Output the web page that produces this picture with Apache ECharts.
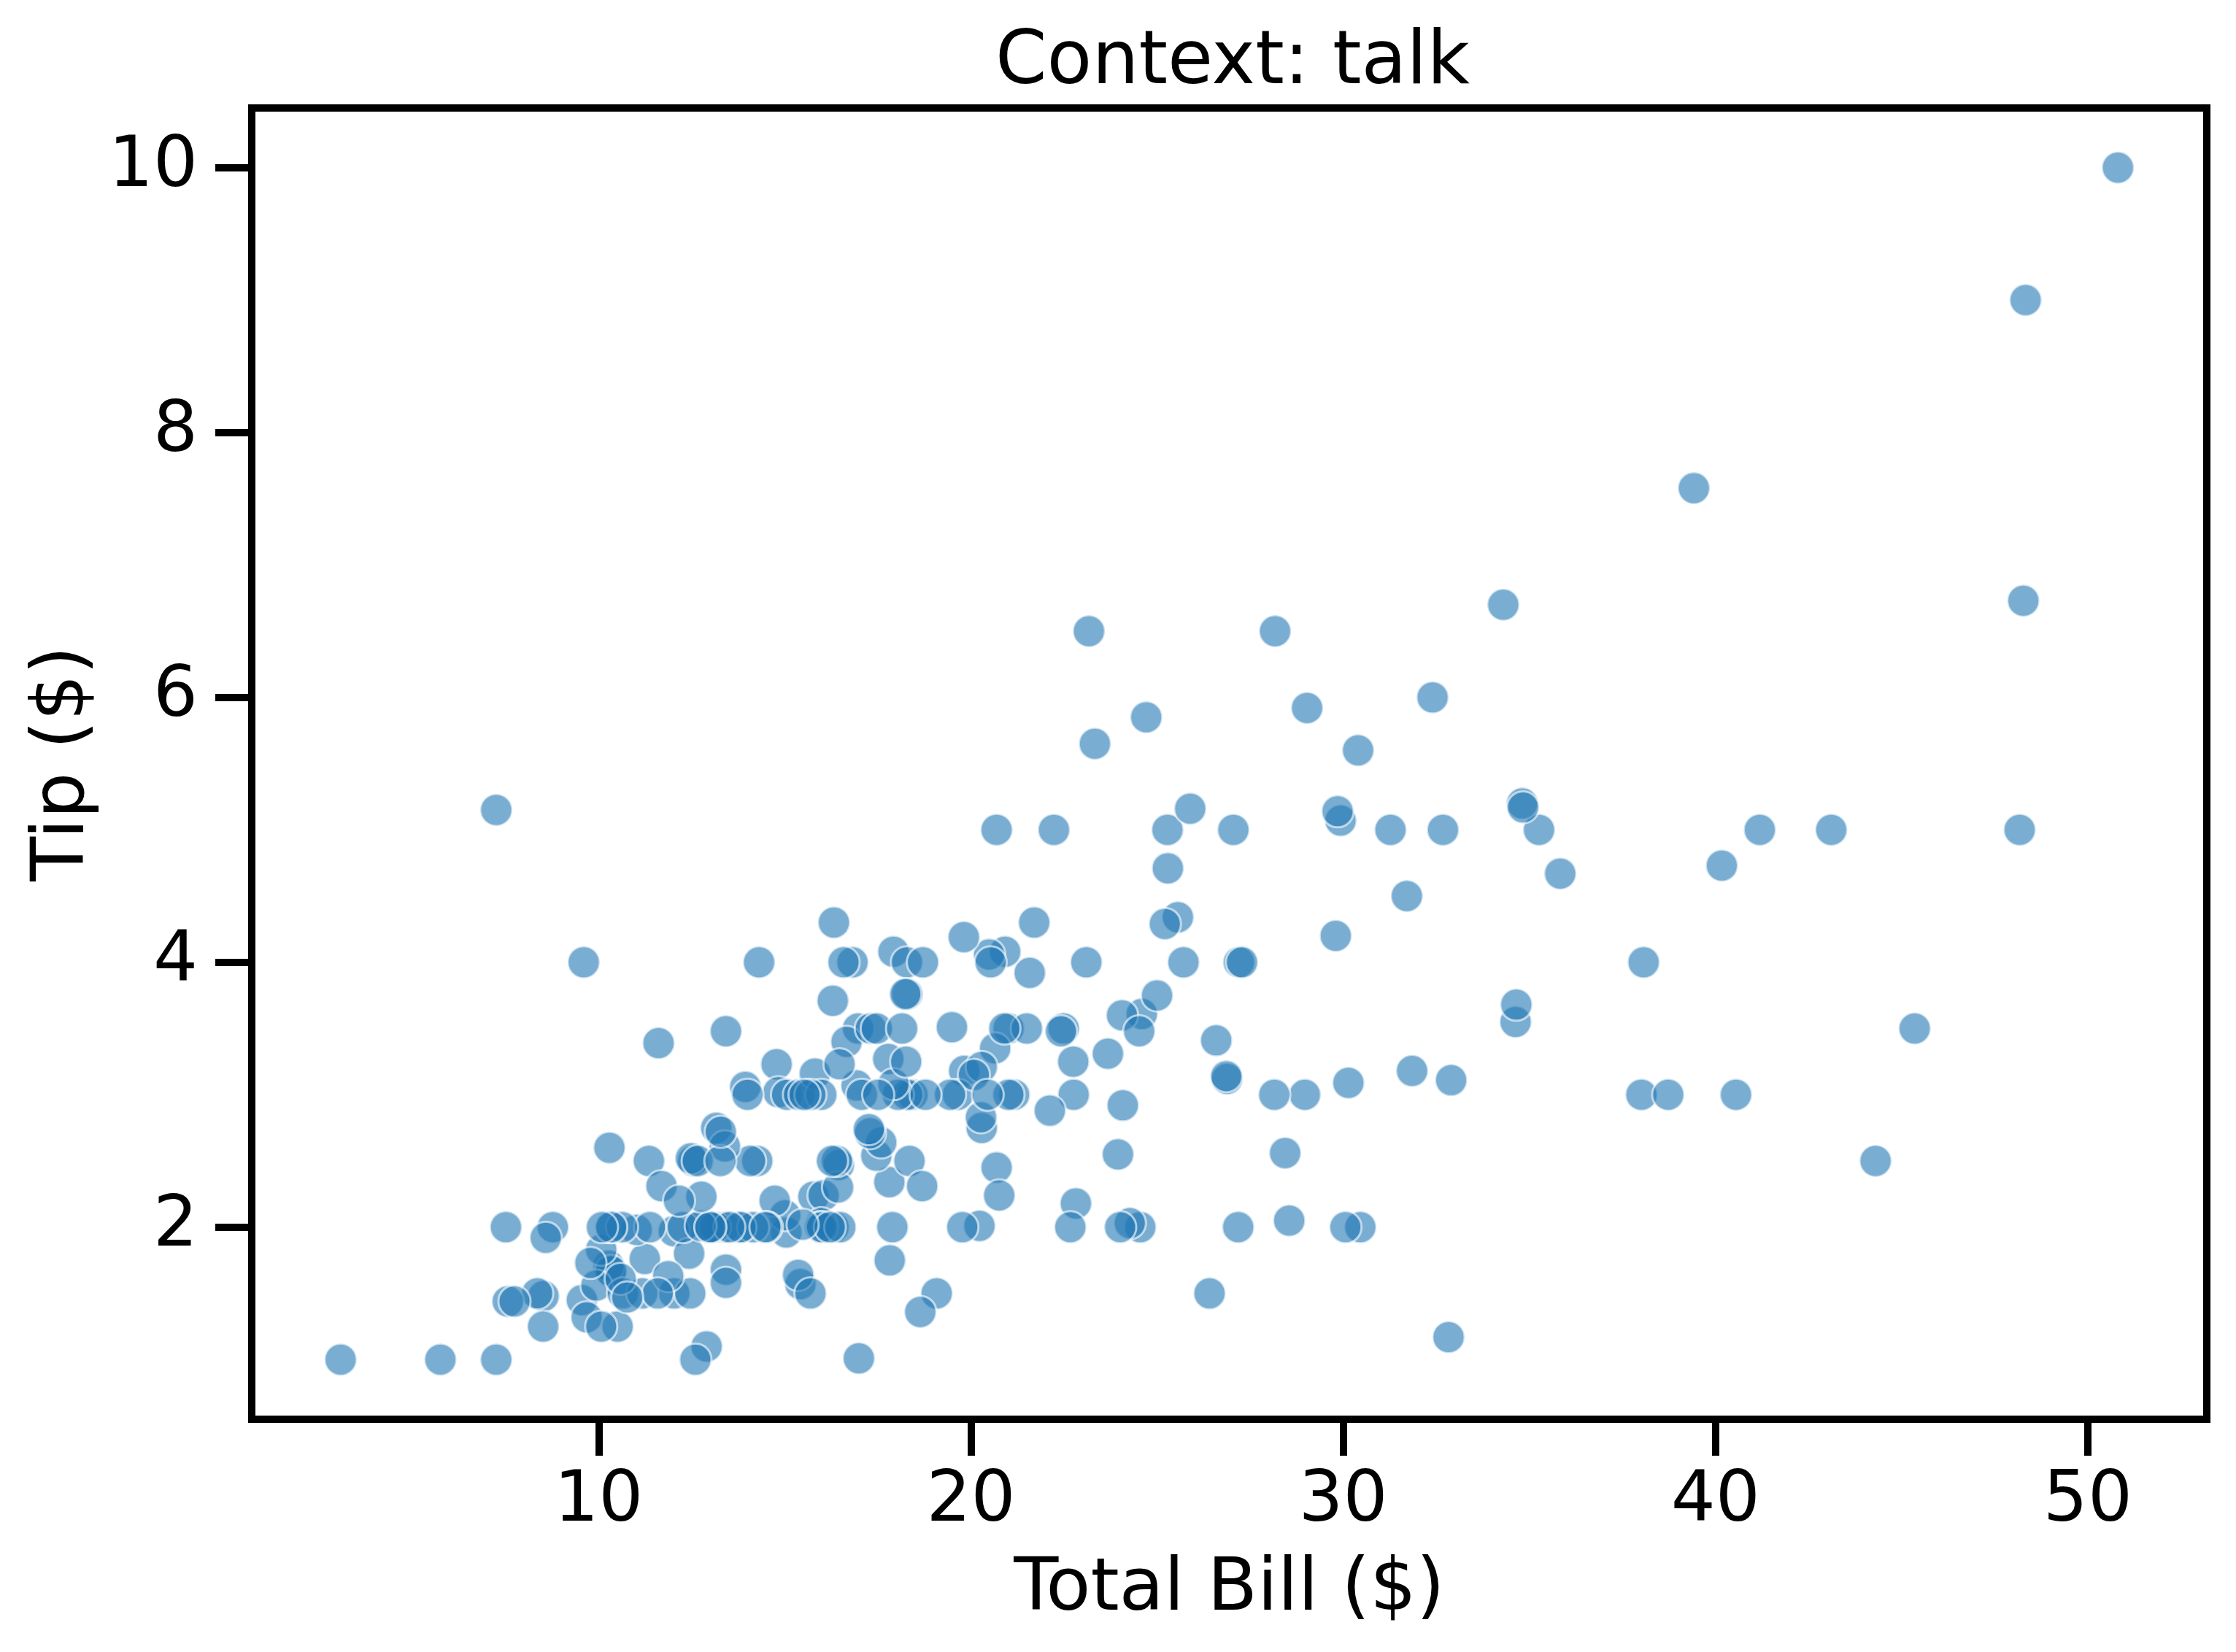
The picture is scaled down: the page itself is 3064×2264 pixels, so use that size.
<!DOCTYPE html>
<html>
<head>
<meta charset="utf-8">
<script src="https://cdn.jsdelivr.net/npm/echarts@6/dist/echarts.min.js"></script>
<style>html,body{margin:0;padding:0;background:#fff;}#c{width:3064px;height:2264px;}</style>
</head>
<body>
<div id="c"></div>
<script>
const titleText = "Context: talk";
const xName = "Total Bill ($)";
const yName = "Tip ($)";
const xTicks = [10, 20, 30, 40, 50];
const yTicks = [2, 4, 6, 8, 10];

const totalBill = [16.99,10.34,21.01,23.68,24.59,25.29,8.77,26.88,15.04,14.78,10.27,35.26,15.42,18.43,14.83,21.58,10.33,16.29,16.97,20.65,17.92,20.29,15.77,39.42,19.82,17.81,13.37,12.69,21.7,19.65,9.55,18.35,15.06,20.69,17.78,24.06,16.31,16.93,18.69,31.27,16.04,17.46,13.94,9.68,30.4,18.29,22.23,32.4,28.55,18.04,12.54,10.29,34.81,9.94,25.56,19.49,38.01,26.41,11.24,48.27,20.29,13.81,11.02,18.29,17.59,20.08,16.45,3.07,20.23,15.01,12.02,17.07,26.86,25.28,14.73,10.51,17.92,27.2,22.76,17.29,19.44,16.66,10.07,32.68,15.98,34.83,13.03,18.28,24.71,21.16,28.97,22.49,5.75,16.32,22.75,40.17,27.28,12.03,21.01,12.46,11.35,15.38,44.3,22.42,20.92,15.36,20.49,25.21,18.24,14.31,14.0,7.25,38.07,23.95,25.71,17.31,29.93,10.65,12.43,24.08,11.69,13.42,14.26,15.95,12.48,29.8,8.52,14.52,11.38,22.82,19.08,20.27,11.17,12.26,18.26,8.51,10.33,14.15,16.0,13.16,17.47,34.3,41.19,27.05,16.43,8.35,18.64,11.87,9.78,7.51,14.07,13.13,17.26,24.55,19.77,29.85,48.17,25.0,13.39,16.49,21.5,12.66,16.21,13.81,17.51,24.52,20.76,31.71,10.59,10.63,50.81,15.81,7.25,31.85,16.82,32.9,17.89,14.48,9.6,34.63,34.65,23.33,45.35,23.17,40.55,20.69,20.9,30.46,18.15,23.1,15.69,19.81,28.44,15.48,16.58,7.56,10.34,43.11,13.0,13.51,18.71,12.74,13.0,16.4,20.53,16.47,26.59,38.73,24.27,12.76,30.06,25.89,48.33,13.27,28.17,12.9,28.15,11.59,7.74,30.14,12.16,13.42,8.58,15.98,13.42,16.27,10.09,20.45,13.28,22.12,24.01,15.69,11.61,10.77,15.53,10.07,12.6,32.83,35.83,29.03,27.18,22.67,17.82,18.78];

const tip = [1.01,1.66,3.5,3.31,3.61,4.71,2.0,3.12,1.96,3.23,1.71,5.0,1.57,3.0,3.02,3.92,1.67,3.71,3.5,3.35,4.08,2.75,2.23,7.58,3.18,2.34,2.0,2.0,4.3,3.0,1.45,2.5,3.0,2.45,3.27,3.6,2.0,3.07,2.31,5.0,2.24,2.54,3.06,1.32,5.6,3.0,5.0,6.0,2.05,3.0,2.5,2.6,5.2,1.56,4.34,3.51,3.0,1.5,1.76,6.73,3.21,2.0,1.98,3.76,2.64,3.15,2.47,1.0,2.01,2.09,1.97,3.0,3.14,5.0,2.2,1.25,3.08,4.0,3.0,2.71,3.0,3.4,1.83,5.0,2.03,5.17,2.0,4.0,5.85,3.0,3.0,3.5,1.0,4.3,3.25,4.73,4.0,1.5,3.0,1.5,2.5,3.0,2.5,3.48,4.08,1.64,4.06,4.29,3.76,4.0,3.0,1.0,4.0,2.55,4.0,3.5,5.07,1.5,1.8,2.92,2.31,1.68,2.5,2.0,2.52,4.2,1.48,2.0,2.0,2.18,1.5,2.83,1.5,2.0,3.25,1.25,2.0,2.0,2.0,2.75,3.5,6.7,5.0,5.0,2.3,1.5,1.36,1.63,1.73,2.0,2.5,2.0,2.74,2.0,2.0,5.14,5.0,3.75,2.61,2.0,3.5,2.5,2.0,2.0,3.0,3.48,2.24,4.5,1.61,2.0,10.0,3.16,5.15,3.18,4.0,3.11,2.0,2.0,4.0,3.55,3.68,5.65,3.5,6.5,3.0,5.0,3.5,2.0,3.5,4.0,1.5,4.19,2.56,2.02,4.0,1.44,2.0,5.0,2.0,2.0,4.0,2.01,2.0,2.5,4.0,3.23,3.41,3.0,2.03,2.23,2.0,5.16,9.0,2.5,6.5,1.1,3.0,1.5,1.44,3.09,2.2,3.48,1.92,3.0,1.58,2.5,2.0,3.0,2.72,2.88,2.0,3.0,3.39,1.47,3.0,1.25,1.0,1.17,4.67,5.92,2.0,2.0,1.75,3.0];

// matplotlib-style 5% margins
const xMin = Math.min(...totalBill), xMax = Math.max(...totalBill);
const yMin = Math.min(...tip), yMax = Math.max(...tip);
const xPad = (xMax - xMin) * 0.05, yPad = (yMax - yMin) * 0.05;

const points = totalBill.map((v, i) => [v, tip[i]]);
const FONT = "DejaVu Sans";

const chart = echarts.init(document.getElementById('c'), null, {renderer: 'canvas'});
chart.setOption({
  animation: false,
  backgroundColor: '#ffffff',
  title: {
    text: titleText,
    left: 1684, textAlign: 'center',
    top: 32,
    textStyle: {fontFamily: FONT, fontSize: 101, fontWeight: 'normal', color: '#000'}
  },
  grid: {
    left: 345, right: 40, top: 148, bottom: 319,
    show: true, borderColor: '#000', borderWidth: 10, backgroundColor: 'transparent'
  },
  xAxis: {
    type: 'value',
    min: +(xMin - xPad).toFixed(4), max: +(xMax + xPad).toFixed(4),
    name: xName, nameLocation: 'middle', nameGap: 185,
    nameTextStyle: {fontFamily: FONT, fontSize: 100, color: '#000'},
    axisLine: {show: true, onZero: false, lineStyle: {color: '#000', width: 10}},
    axisTick: {show: true, length: 50, customValues: xTicks, lineStyle: {color: '#000', width: 10}},
    axisLabel: {show: true, customValues: xTicks, margin: 66, fontFamily: FONT, fontSize: 96, color: '#000'},
    splitLine: {show: false}
  },
  yAxis: {
    type: 'value',
    min: +(yMin - yPad).toFixed(4), max: +(yMax + yPad).toFixed(4),
    name: yName, nameLocation: 'middle', nameGap: 205, nameRotate: 90,
    nameTextStyle: {fontFamily: FONT, fontSize: 100, color: '#000'},
    axisLine: {show: true, onZero: false, lineStyle: {color: '#000', width: 10}},
    axisTick: {show: true, length: 50, customValues: yTicks, lineStyle: {color: '#000', width: 10}},
    axisLabel: {show: true, customValues: yTicks, margin: 74, fontFamily: FONT, fontSize: 96, color: '#000'},
    splitLine: {show: false}
  },
  series: [{
    type: 'scatter',
    data: points,
    symbol: 'circle',
    symbolSize: 44,
    itemStyle: {color: '#1f77b4', opacity: 0.6, borderColor: '#ffffff', borderWidth: 3}
  }]
});
</script>
</body>
</html>
